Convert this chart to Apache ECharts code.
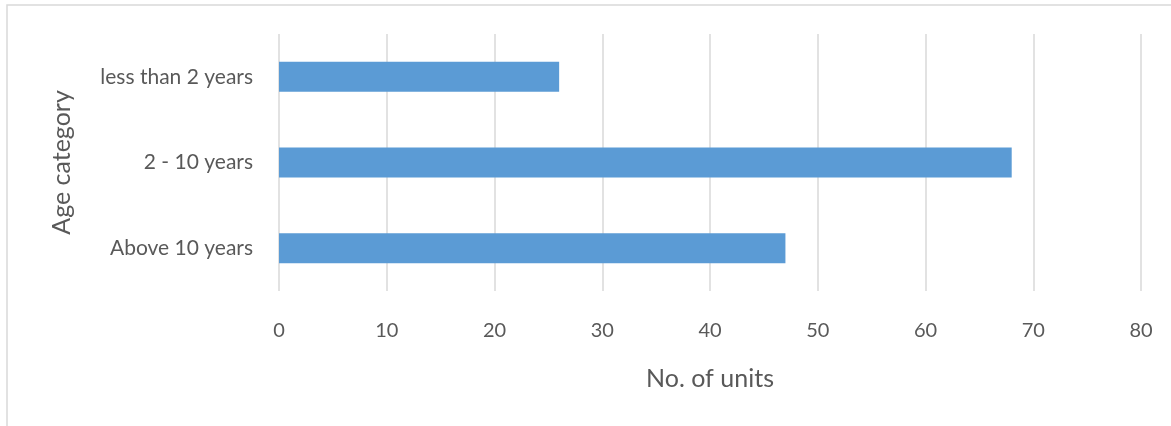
<!DOCTYPE html>
<html>
<head>
<meta charset="utf-8">
<script src="https://cdn.jsdelivr.net/npm/echarts@6/dist/echarts.min.js"></script>
<style>
html,body{margin:0;padding:0;background:#fff;}
#chart{width:1171px;height:426px;}
</style>
</head>
<body>
<div id="chart"></div>
<script>
const categories = ['less than 2 years', '2 - 10 years', 'Above 10 years'];
const units = [26, 68, 47];
const xTicks = [0, 10, 20, 30, 40, 50, 60, 70, 80];
const xAxisTitle = 'No. of units';
const yAxisTitle = 'Age category';

const FONT = 'Lato';
const TXT = '#595959';
const chart = echarts.init(document.getElementById('chart'), null, {renderer: 'canvas'});
chart.setOption({
  animation: false,
  backgroundColor: '#ffffff',
  textStyle: {fontFamily: FONT},
  graphic: [{
    type: 'rect',
    shape: {x: 7, y: 5, width: 1250, height: 500},
    style: {fill: 'none', stroke: '#d9d9d9', lineWidth: 1.5},
    silent: true
  }],
  grid: {left: 279, right: 30, top: 34, bottom: 135, containLabel: false},
  xAxis: {
    type: 'value',
    min: xTicks[0],
    max: xTicks[xTicks.length - 1],
    interval: xTicks[1] - xTicks[0],
    name: xAxisTitle,
    nameLocation: 'middle',
    nameGap: 75,
    nameTextStyle: {color: TXT, fontSize: 25, fontFamily: FONT},
    axisLine: {show: false},
    axisTick: {show: false},
    axisLabel: {color: TXT, fontSize: 20, margin: 30, fontFamily: FONT},
    splitLine: {show: true, lineStyle: {color: '#d9d9d9', width: 1.5}}
  },
  yAxis: {
    type: 'category',
    data: categories,
    inverse: true,
    name: yAxisTitle,
    nameLocation: 'middle',
    nameRotate: 90,
    nameGap: 205,
    nameTextStyle: {color: TXT, fontSize: 25, fontFamily: FONT},
    axisLine: {show: false},
    axisTick: {show: false},
    axisLabel: {color: TXT, fontSize: 21, margin: 26, fontFamily: FONT},
    splitLine: {show: false}
  },
  series: [{
    type: 'bar',
    data: units,
    barWidth: '35%',
    itemStyle: {color: '#5b9bd5'}
  }]
});
</script>
</body>
</html>
